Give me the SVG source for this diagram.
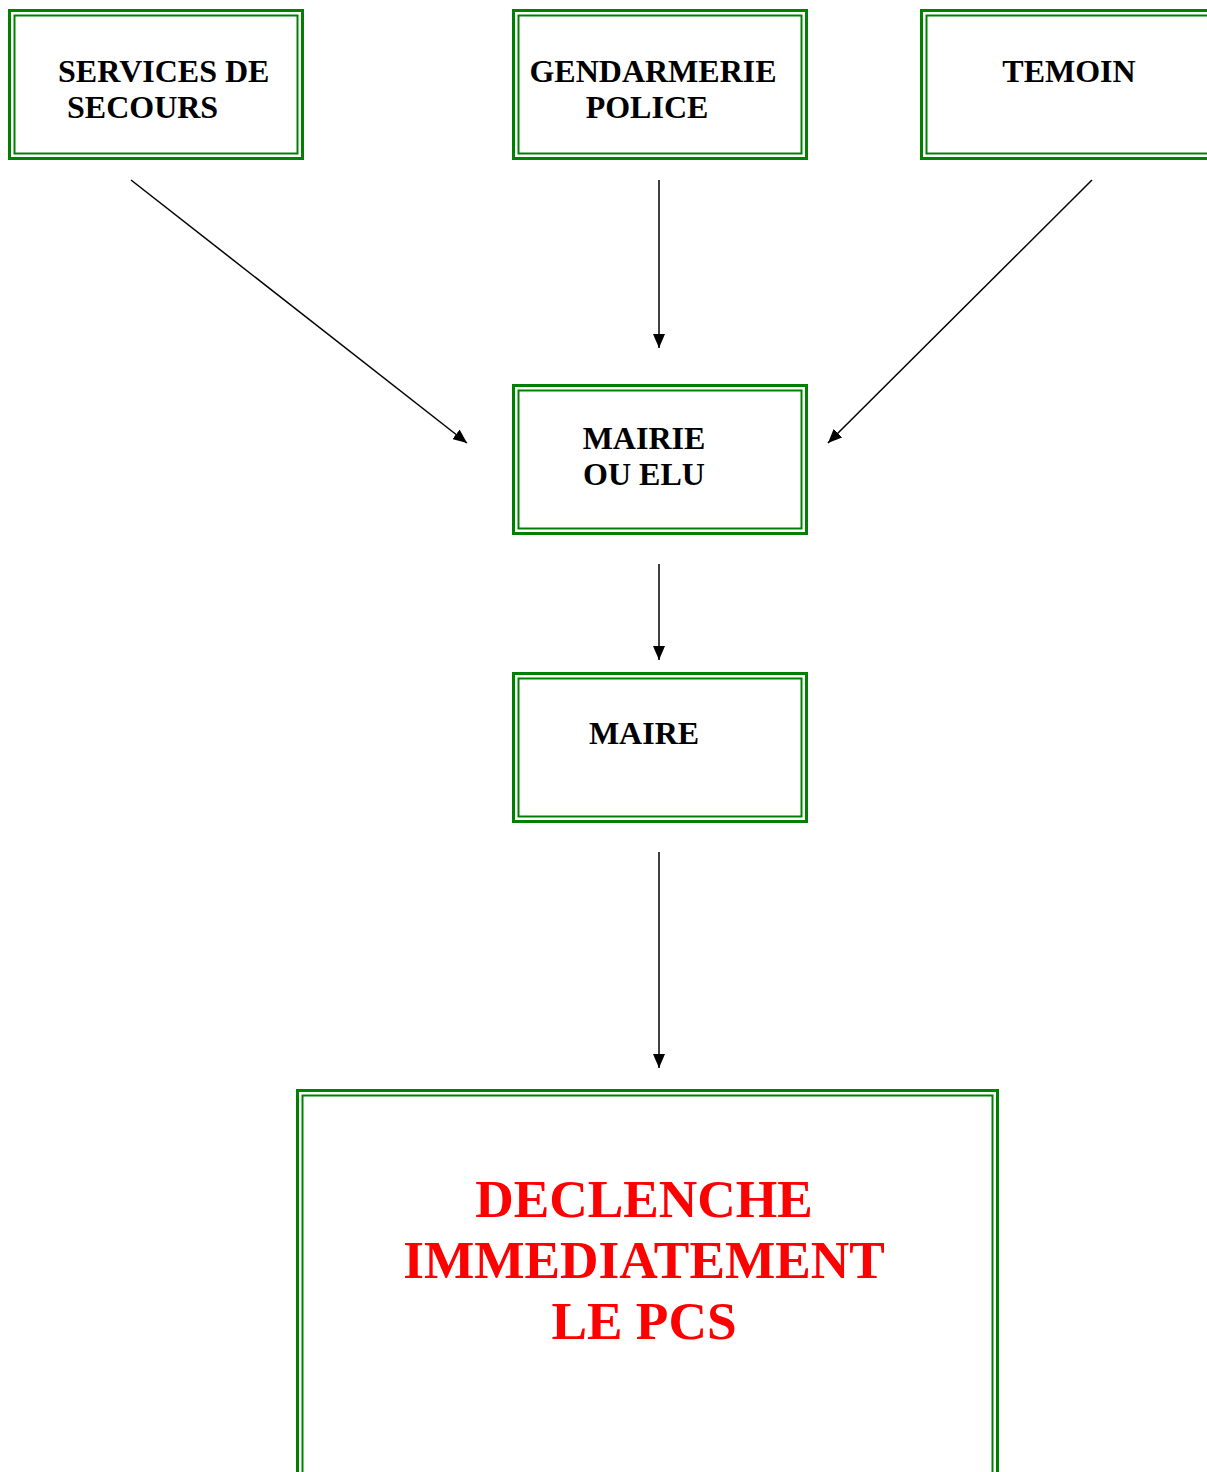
<svg xmlns="http://www.w3.org/2000/svg" width="1207" height="1472" viewBox="0 0 1207 1472">
<style>
.outer{fill:none;stroke:#008000;stroke-width:3}
.inner{fill:none;stroke:#008000;stroke-width:2}
.t{font-family:"Liberation Serif","Times New Roman",serif;font-weight:bold;font-size:32px;fill:#000}
.big{font-family:"Liberation Serif","Times New Roman",serif;font-weight:bold;font-size:53.3px;fill:#ff0000}
.conn{stroke:#000;stroke-width:1.5;fill:none}
</style>
<defs>
<marker id="ah" viewBox="0 0 14 12" refX="14" refY="6" markerWidth="14" markerHeight="12" markerUnits="userSpaceOnUse" orient="auto">
<path d="M0,0 L14,6 L0,12 Z" fill="#000"/>
</marker>
</defs>
<rect width="1207" height="1472" fill="#fff"/>
<g id="services">
<rect class="outer" x="9.5" y="10.5" width="293" height="148"/>
<rect class="inner" x="14.5" y="15.5" width="283" height="138"/>
<text class="t" x="58" y="82">SERVICES DE</text>
<text class="t" x="67" y="118">SECOURS</text>
</g>
<g id="gendarmerie">
<rect class="outer" x="513.5" y="10.5" width="293" height="148"/>
<rect class="inner" x="518.5" y="15.5" width="283" height="138"/>
<text class="t" x="653" y="82" text-anchor="middle">GENDARMERIE</text>
<text class="t" x="647" y="118" text-anchor="middle">POLICE</text>
</g>
<g id="temoin">
<rect class="outer" x="921.5" y="10.5" width="293" height="148"/>
<rect class="inner" x="926.5" y="15.5" width="283" height="138"/>
<text class="t" x="1069" y="82" text-anchor="middle">TEMOIN</text>
</g>
<g id="mairie">
<rect class="outer" x="513.5" y="385.5" width="293" height="148"/>
<rect class="inner" x="518.5" y="390.5" width="283" height="138"/>
<text class="t" x="644" y="449" text-anchor="middle">MAIRIE</text>
<text class="t" x="644" y="485" text-anchor="middle">OU ELU</text>
</g>
<g id="maire">
<rect class="outer" x="513.5" y="673.5" width="293" height="148"/>
<rect class="inner" x="518.5" y="678.5" width="283" height="138"/>
<text class="t" x="644" y="744" text-anchor="middle">MAIRE</text>
</g>
<g id="pcs">
<rect class="outer" x="297.5" y="1090.5" width="700" height="420"/>
<rect class="inner" x="302.5" y="1095.5" width="690" height="410"/>
<text class="big" x="644" y="1217" text-anchor="middle">DECLENCHE</text>
<text class="big" x="644" y="1278" text-anchor="middle">IMMEDIATEMENT</text>
<text class="big" x="644" y="1339" text-anchor="middle">LE PCS</text>
</g>
<g id="connectors">
<line class="conn" x1="131" y1="180" x2="467" y2="443" marker-end="url(#ah)"/>
<line class="conn" x1="659" y1="180" x2="659" y2="348" marker-end="url(#ah)"/>
<line class="conn" x1="1092" y1="180" x2="828" y2="443" marker-end="url(#ah)"/>
<line class="conn" x1="659" y1="564" x2="659" y2="660" marker-end="url(#ah)"/>
<line class="conn" x1="659" y1="852" x2="659" y2="1068" marker-end="url(#ah)"/>
</g>
</svg>
